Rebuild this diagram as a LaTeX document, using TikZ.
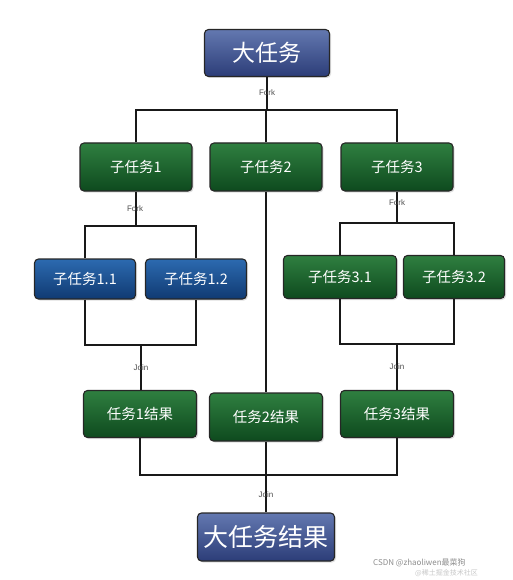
\documentclass[tikz,border=0pt]{standalone}
\usepackage{fontspec}
\setmainfont{Liberation Sans}
\newfontfamily\cjk{Noto Sans CJK SC}
\usetikzlibrary{shadows}
\definecolor{bluetop}{HTML}{6378B0}
\definecolor{bluebot}{HTML}{2C3D78}
\definecolor{greentop}{HTML}{2F7F40}
\definecolor{greenbot}{HTML}{0E4A1E}
\definecolor{sbluetop}{HTML}{2C6AB0}
\definecolor{sbluebot}{HTML}{103A72}
\tikzset{
  box/.style={draw=black!85, line width=1.1pt, rounded corners=4pt, text=white,
    font=\cjk\fontsize{14.5}{17}\selectfont, inner sep=0pt,
    drop shadow={opacity=0.25, shadow xshift=1.5pt, shadow yshift=-1.5pt}},
  bigbox/.style={box, top color=bluetop, bottom color=bluebot, font=\cjk\fontsize{23}{27}\selectfont},
  gbox/.style={box, top color=greentop, bottom color=greenbot},
  bbox/.style={box, top color=sbluetop, bottom color=sbluebot},
  wire/.style={line width=1.6pt, black!90},
  lab/.style={font=\fontsize{8}{9}\selectfont, text=black!70, inner sep=0pt},
}
\begin{document}
\begin{tikzpicture}[x=1pt,y=-1pt]
\useasboundingbox (0,0) rectangle (512,580);
% coordinates of fork/join bars
\coordinate (f0) at (267,110);
\coordinate (f1) at (141,226);
\coordinate (f3) at (397,223);
\coordinate (j1) at (141,345);
\coordinate (j3) at (397,344);
\coordinate (j0) at (266,475);
\node[bigbox, minimum width=125pt, minimum height=47pt] (big) at (267,53) {大任务};
\node[gbox, minimum width=112pt, minimum height=48pt] (s1) at (136,167) {子任务1};
\node[gbox, minimum width=112pt, minimum height=48pt] (s2) at (266,167) {子任务2};
\node[gbox, minimum width=112pt, minimum height=48pt] (s3) at (397,167) {子任务3};
\node[bbox, minimum width=101pt, minimum height=40pt] (s11) at (85,279) {子任务1.1};
\node[bbox, minimum width=101pt, minimum height=40pt] (s12) at (196,279) {子任务1.2};
\node[gbox, minimum width=113pt, minimum height=43pt] (s31) at (340,277) {子任务3.1};
\node[gbox, minimum width=101pt, minimum height=43pt] (s32) at (454,277) {子任务3.2};
\node[gbox, minimum width=113pt, minimum height=47pt] (r1) at (140,414) {任务1结果};
\node[gbox, minimum width=113pt, minimum height=48pt] (r2) at (266,417) {任务2结果};
\node[gbox, minimum width=113pt, minimum height=47pt] (r3) at (397,414) {任务3结果};
\node[bigbox, minimum width=137pt, minimum height=48pt, font=\cjk\fontsize{25}{29}\selectfont] (res) at (266,537) {大任务结果};
% top fork
\draw[wire] (big.south) -- (f0);
\draw[wire] (s1.north) |- (f0) -| (s3.north);
\draw[wire] (s2.north) -- (s2.north |- f0);
% fork under s1
\draw[wire] (s1.south) -- (s1.south |- f1);
\draw[wire] (s11.north) |- (f1) -| (s12.north);
% fork under s3
\draw[wire] (s3.south) -- (s3.south |- f3);
\draw[wire] (s31.north) |- (f3) -| (s32.north);
% joins
\draw[wire] (s11.south) |- (j1) -| (s12.south);
\draw[wire] (j1) -- (j1 |- r1.north);
\draw[wire] (s31.south) |- (j3) -| (s32.south);
\draw[wire] (j3) -- (j3 |- r3.north);
\draw[wire] (s2.south) -- (r2.north);
\draw[wire] (r1.south) |- (j0) -| (r3.south);
\draw[wire] (r2.south) -- (j0) -- (res.north);
% labels
\node[lab] (l0) at (267,93) {Fork};
\node[lab] (l1) at (135,209) {Fork};
\node[lab] (l3) at (397,203) {Fork};
\node[lab] (l4) at (141,368) {Join};
\node[lab] (l5) at (397,367) {Join};
\node[lab] (l6) at (266,495) {Join};
% watermark
\node[anchor=west, inner sep=0pt, text=black!45, font=\cjk\fontsize{8}{9}\selectfont] (wm) at (373,563) {CSDN @zhaoliwen最菜狗};
\node[anchor=west, inner sep=0pt, text=black!22, font=\cjk\fontsize{7}{8}\selectfont] (wm2) at (415,573) {@稀土掘金技术社区};
\end{tikzpicture}
\end{document}
